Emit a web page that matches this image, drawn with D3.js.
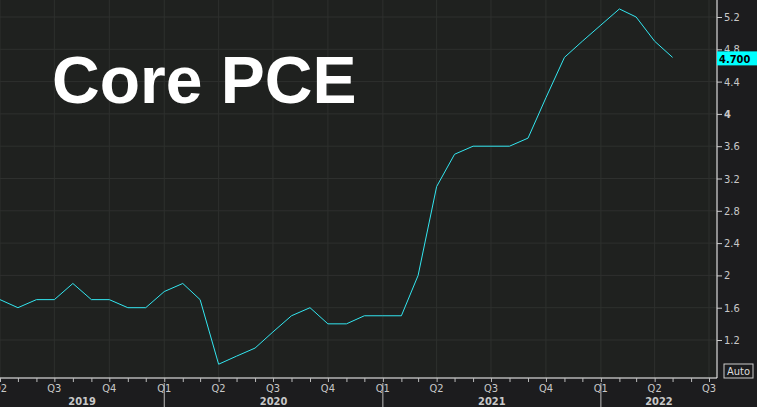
<!DOCTYPE html>
<html lang="en">
<head>
<meta charset="UTF-8">
<script src="https://d3js.org/d3.v7.min.js"></script>
<style>
  body { margin: 0; background: #1c1c1e; }
  text { font-family: "DejaVu Sans Condensed", "DejaVu Sans", sans-serif; }
</style>
</head>
<body>
<div id="chart"></div>
<script>
  // Monthly core PCE, y/y %, Apr 2019 .. May 2022
  const months = ["2019-04","2019-05","2019-06","2019-07","2019-08","2019-09","2019-10","2019-11","2019-12",
    "2020-01","2020-02","2020-03","2020-04","2020-05","2020-06","2020-07","2020-08","2020-09","2020-10","2020-11","2020-12",
    "2021-01","2021-02","2021-03","2021-04","2021-05","2021-06","2021-07","2021-08","2021-09","2021-10","2021-11","2021-12",
    "2022-01","2022-02","2022-03","2022-04","2022-05"];
  const values = [1.7,1.6,1.7,1.7,1.9,1.7,1.7,1.6,1.6,
    1.8,1.9,1.7,0.9,1.0,1.1,1.3,1.5,1.6,1.4,1.4,1.5,
    1.5,1.5,2.0,3.1,3.5,3.6,3.6,3.6,3.7,4.2,4.7,4.9,
    5.1,5.3,5.2,4.9,4.7];
  const yTicks = [1.2,1.6,2,2.4,2.8,3.2,3.6,4,4.4,4.8,5.2];
  const years = ["2019","2020","2021","2022"];

  const W = 757, H = 407, right = 717, bottom = 378;
  const parse = d3.timeParse("%Y-%m");
  const data = months.map((m, i) => ({ d: parse(m), v: values[i] }));

  const x = d3.scaleTime()
    .domain([parse("2019-04"), parse("2022-07")])
    .range([0, 709]);
  const y = d3.scaleLinear().domain([1.2, 5.2]).range([340, 17]);

  const svg = d3.select("#chart").append("svg").attr("width", W).attr("height", H);
  svg.append("rect").attr("width", W).attr("height", H).attr("fill", "#1c1c1e");
  svg.append("rect").attr("width", right).attr("height", bottom).attr("fill", "#1f211f");

  // grid
  const quarters = d3.timeMonth.every(3).range(parse("2019-04"), parse("2022-08"));
  svg.append("g").selectAll("line").data(quarters).join("line")
    .attr("x1", d => x(d)).attr("x2", d => x(d)).attr("y1", 0).attr("y2", bottom)
    .attr("stroke", "#2e302e");
  svg.append("g").selectAll("line").data(yTicks).join("line")
    .attr("x1", 0).attr("x2", right).attr("y1", d => y(d)).attr("y2", d => y(d))
    .attr("stroke", "#2e302e");

  // line
  svg.append("path").datum(data)
    .attr("fill", "none").attr("stroke", "#33e6f0").attr("stroke-width", 1)
    .attr("d", d3.line().x(d => x(d.d)).y(d => y(d.v)));

  // right axis
  const ya = svg.append("g").attr("transform", `translate(${right},0)`)
    .call(d3.axisRight(y).tickValues(yTicks).tickFormat(d3.format("~g")).tickSize(5).tickPadding(2));
  ya.select(".domain").attr("stroke", "#fff").attr("d", `M0,0V${bottom}`);
  ya.selectAll(".tick line").attr("stroke", "#ccc");
  ya.selectAll(".tick text").attr("fill", "#c8c8c8").attr("font-size", 11);
  ya.selectAll(".tick").filter(d => d === 4).select("text").attr("font-weight", "bold");

  // last value label
  const last = data[data.length - 1];
  svg.append("rect").attr("x", right).attr("y", y(last.v) - 6).attr("width", 40).attr("height", 14).attr("fill", "#00ffff");
  svg.append("text").attr("x", right + 2).attr("y", y(last.v) + 5.5)
    .attr("font-size", 11).attr("font-weight", "bold").attr("fill", "#000").text(last.v.toFixed(3));

  // Auto box
  svg.append("rect").attr("x", 724).attr("y", 364).attr("width", 29).attr("height", 14)
    .attr("fill", "#1c1c1e").attr("stroke", "#ccc");
  svg.append("text").attr("x", 738.5).attr("y", 375).attr("text-anchor", "middle")
    .attr("font-size", 11).attr("fill", "#ddd").text("Auto");

  // bottom axis
  svg.append("line").attr("x1", 0).attr("x2", right).attr("y1", bottom).attr("y2", bottom).attr("stroke", "#fff");
  const xa = svg.append("g").attr("transform", `translate(0,${bottom})`)
    .call(d3.axisBottom(x).ticks(d3.timeMonth.every(1)).tickSize(4).tickFormat(""));
  xa.select(".domain").remove();
  xa.selectAll(".tick line").attr("stroke", "#bbb");
  svg.append("g").selectAll("text").data(quarters).join("text")
    .attr("x", d => x(d)).attr("y", 392).attr("text-anchor", "middle")
    .attr("font-size", 11).attr("fill", "#c8c8c8")
    .text(d => "Q" + (Math.floor(d.getMonth() / 3) + 1));
  svg.append("g").selectAll("line").data(years.slice(1)).join("line")
    .attr("x1", d => x(parse(d + "-01"))).attr("x2", d => x(parse(d + "-01")))
    .attr("y1", 383).attr("y2", H).attr("stroke", "#bbb");
  svg.append("g").selectAll("text").data(years).join("text")
    .attr("x", d => {
      const a = Math.max(0, x(parse(d + "-01"))), b = Math.min(right, x(parse((+d + 1) + "-01")));
      return (a + b) / 2;
    })
    .attr("y", 405).attr("text-anchor", "middle").attr("font-size", 11).attr("font-weight", "bold")
    .attr("fill", "#c8c8c8").text(d => d);

  // title
  svg.append("text").attr("x", 52).attr("y", 103)
    .style("font-family", "'Liberation Sans', Arial, sans-serif").attr("font-size", 66).attr("font-weight", "bold")
    .attr("fill", "#fff").text("Core PCE");
</script>
</body>
</html>
